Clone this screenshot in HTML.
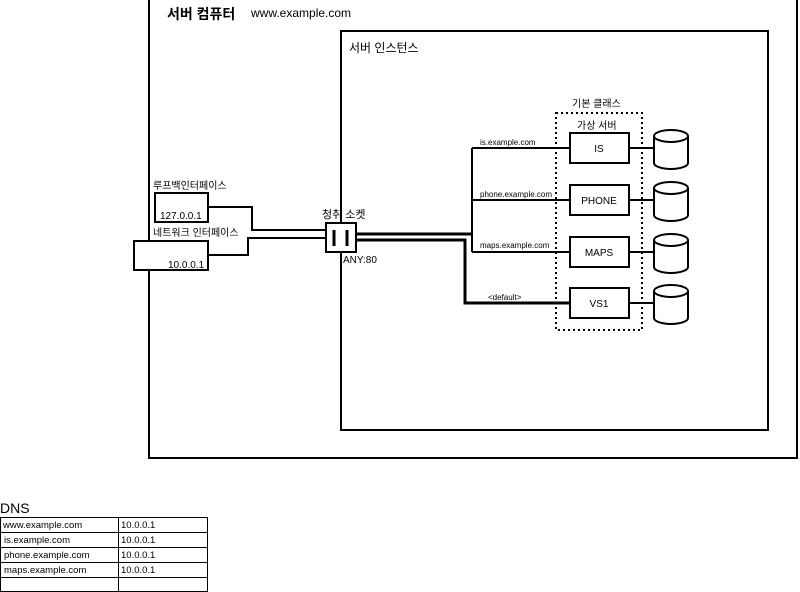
<!DOCTYPE html>
<html><head><meta charset="utf-8"><style>
html,body{margin:0;padding:0;background:#fff;width:800px;height:592px;overflow:hidden}
svg text{font-family:"Liberation Sans","Noto Sans CJK KR",sans-serif;fill:#000}
</style></head><body>
<svg width="800" height="592" viewBox="0 0 800 592" xmlns="http://www.w3.org/2000/svg">
<g fill="none" stroke="#000" stroke-width="2">
<rect x="149" y="-1" width="648" height="459"/>
<rect x="341" y="31" width="427" height="399"/>
</g>
<text x="167" y="19" font-size="14" font-weight="bold">서버 컴퓨터</text>
<text x="251" y="17" font-size="12">www.example.com</text>
<text x="349" y="52" font-size="12">서버 인스턴스</text>

<g fill="none" stroke="#000" stroke-width="2">
<polyline points="208,207 252,207 252,230 326,230"/>
<polyline points="208,255 248,255 248,238 326,238"/>
<rect x="155" y="193" width="53" height="29" fill="#fff"/>
<rect x="134" y="241" width="74" height="29" fill="#fff"/>
<rect x="326" y="223" width="30" height="29" fill="#fff"/>
<line x1="334" y1="230" x2="334" y2="246" stroke-width="3"/>
<line x1="347" y1="230" x2="347" y2="246" stroke-width="3"/>
<polyline points="356,234 472,234" stroke-width="3"/>
<polyline points="356,240 465,240 465,303 570,303" stroke-width="3"/>
<line x1="472" y1="148" x2="472" y2="252"/>
<line x1="472" y1="148" x2="570" y2="148"/>
<line x1="472" y1="200" x2="570" y2="200"/>
<line x1="472" y1="252" x2="570" y2="252"/>
<rect x="556" y="113" width="86" height="217" stroke-dasharray="2,3"/>
<rect x="570" y="133" width="59" height="30" fill="#fff"/>
<rect x="570" y="185" width="59" height="30" fill="#fff"/>
<rect x="570" y="237" width="59" height="30" fill="#fff"/>
<rect x="570" y="288" width="59" height="30" fill="#fff"/>
<line x1="629" y1="148" x2="654" y2="148"/>
<line x1="629" y1="200" x2="654" y2="200"/>
<line x1="629" y1="252" x2="654" y2="252"/>
<line x1="629" y1="303" x2="654" y2="303"/>
<g id="cyl">
<path d="M654,136 L654,163 A17,6 0 0 0 688,163 L688,136" fill="#fff"/>
<ellipse cx="671" cy="136" rx="17" ry="6" fill="#fff"/>
</g>
<use href="#cyl" y="52"/>
<use href="#cyl" y="104"/>
<use href="#cyl" y="155"/>
</g>
<text x="153" y="189" font-size="10">루프백인터페이스</text>
<text x="160" y="219" font-size="10">127.0.0.1</text>
<text x="153" y="236" font-size="10">네트워크 인터페이스</text>
<text x="168" y="268" font-size="10">10.0.0.1</text>
<text x="322" y="218" font-size="11">청취 소켓</text>
<text x="343" y="263" font-size="10">ANY:80</text>
<text x="480" y="145" font-size="8">is.example.com</text>
<text x="480" y="197" font-size="8">phone.example.com</text>
<text x="480" y="248" font-size="8">maps.example.com</text>
<text x="488" y="300" font-size="8">&lt;default&gt;</text>
<text x="572" y="107" font-size="10">기본 클래스</text>
<text x="577" y="129" font-size="10">가상 서버</text>
<text x="599" y="152" font-size="10" text-anchor="middle">IS</text>
<text x="599" y="204" font-size="10" text-anchor="middle">PHONE</text>
<text x="599" y="256" font-size="10" text-anchor="middle">MAPS</text>
<text x="599" y="307" font-size="10" text-anchor="middle">VS1</text>

<text x="0" y="513" font-size="14">DNS</text>
<g fill="none" stroke="#000" stroke-width="1">
<rect x="0.5" y="517.5" width="207" height="74"/>
<line x1="118.5" y1="517" x2="118.5" y2="592"/>
<line x1="0" y1="532.5" x2="208" y2="532.5"/>
<line x1="0" y1="547.5" x2="208" y2="547.5"/>
<line x1="0" y1="562.5" x2="208" y2="562.5"/>
<line x1="0" y1="577.5" x2="208" y2="577.5"/>
</g>
<g font-size="9.5">
<text x="3" y="528">www.example.com</text><text x="121" y="528">10.0.0.1</text>
<text x="4" y="543">is.example.com</text><text x="121" y="543">10.0.0.1</text>
<text x="4" y="558">phone.example.com</text><text x="121" y="558">10.0.0.1</text>
<text x="4" y="573">maps.example.com</text><text x="121" y="573">10.0.0.1</text>
</g>
</svg>
</body></html>
